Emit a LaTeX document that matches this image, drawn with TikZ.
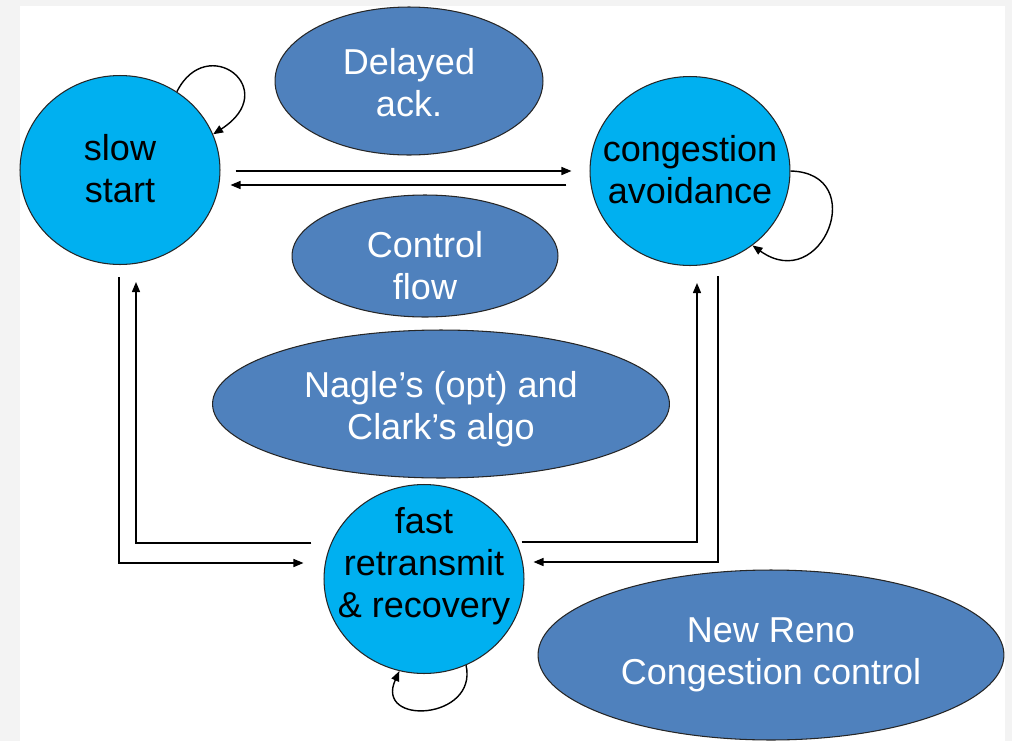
\documentclass[tikz,border=0pt]{standalone}
\usepackage{fontspec}
\setmainfont{Liberation Sans}
\usetikzlibrary{positioning}
\usetikzlibrary{arrows.meta}
\usetikzlibrary{shapes.geometric}

\definecolor{phaseblue}{HTML}{00B0F0}
\definecolor{topicblue}{HTML}{4F81BD}
\definecolor{slidegray}{HTML}{F3F3F3}

% text block of zero width, optionally moved up or down
\newcommand{\blobtext}[2][0pt]{\raisebox{\dimexpr#1-5.1pt\relax}[0pt][0pt]{\makebox[0pt]{\begin{tabular}{@{}c@{}}#2\end{tabular}}}}

\tikzset{
    phase/.style={ellipse, draw=black!85, line width=0.6pt, fill=phaseblue, inner sep=0pt,
        minimum width=4cm, minimum height=3.78cm, text=black},
    topic/.style={ellipse, draw=black!85, line width=0.6pt, fill=topicblue, inner sep=0pt, text=white},
    link/.style={line width=0.8pt, -{Triangle[length=2mm,width=1.6mm]}}
}

\begin{document}
\begin{tikzpicture}[x=0.02cm, y=0.02cm, font=\fontsize{20.5}{24}\selectfont]
    % slide
    \fill[slidegray] (0,0) rectangle (1012,-741);
    \fill[white] (20,-6) rectangle (1005,-741);

    \node (delack) [topic, minimum width=5.36cm, minimum height=2.96cm] at (409,-81) {
        \blobtext[-3.4pt]{Delayed\\ack.}
    };
    \node (ctrlflow) [topic, minimum width=5.32cm, minimum height=2.44cm] at (425,-256) {
        \blobtext[-8pt]{Control\\flow}
    };
    \node (nagle) [topic, minimum width=9.14cm, minimum height=2.96cm] at (441,-404) {
        \blobtext[-3.4pt]{Nagle’s (opt) and\\Clark’s algo}
    };
    \node (newreno) [topic, minimum width=9.32cm, minimum height=3.4cm] at (771,-655) {
        \blobtext{New Reno\\Congestion control}
    };

    \node (ss) [phase] at (120,-170) {
        \blobtext[-1.7pt]{slow\\start}
    };
    \node (ca) [phase] at (690,-171) {
        \blobtext[-1.7pt]{congestion\\avoidance}
    };
    \node (fr) [phase] at (424,-579) {
        \blobtext[6.8pt]{fast\\retransmit\\\& recovery}
    };

    \draw [link] ([shift={(15,-1)}]ss.east) -- ([shift={(-18,0)}]ca.west);
    \draw [link] ([shift={(-23,-14)}]ca.west) -- ([shift={(10,-15)}]ss.east);

    \draw [link] ([shift={(-1,-12)}]ss.south) |- ([shift={(-20,16)}]fr.west);
    \draw [link] ([shift={(-12,36)}]fr.west) -| ([shift={(16,-17)}]ss.south);
    \draw [link] ([shift={(-3,37)}]fr.east) -| ([shift={(7,-17)}]ca.south);
    \draw [link] ([shift={(28,-10)}]ca.south) |- ([shift={(9,17)}]fr.east);

    \draw [link] (ss.54) .. controls +(30,60) and +(70,45) .. (ss.21);
    \draw [link] (ca.0) .. controls +(80,-2) and +(70,-50) .. (ca.-50);
    \draw [link] (fr.-64) .. controls +(12,-55) and +(-25,-55) .. (fr.-105);
\end{tikzpicture}
\end{document}
